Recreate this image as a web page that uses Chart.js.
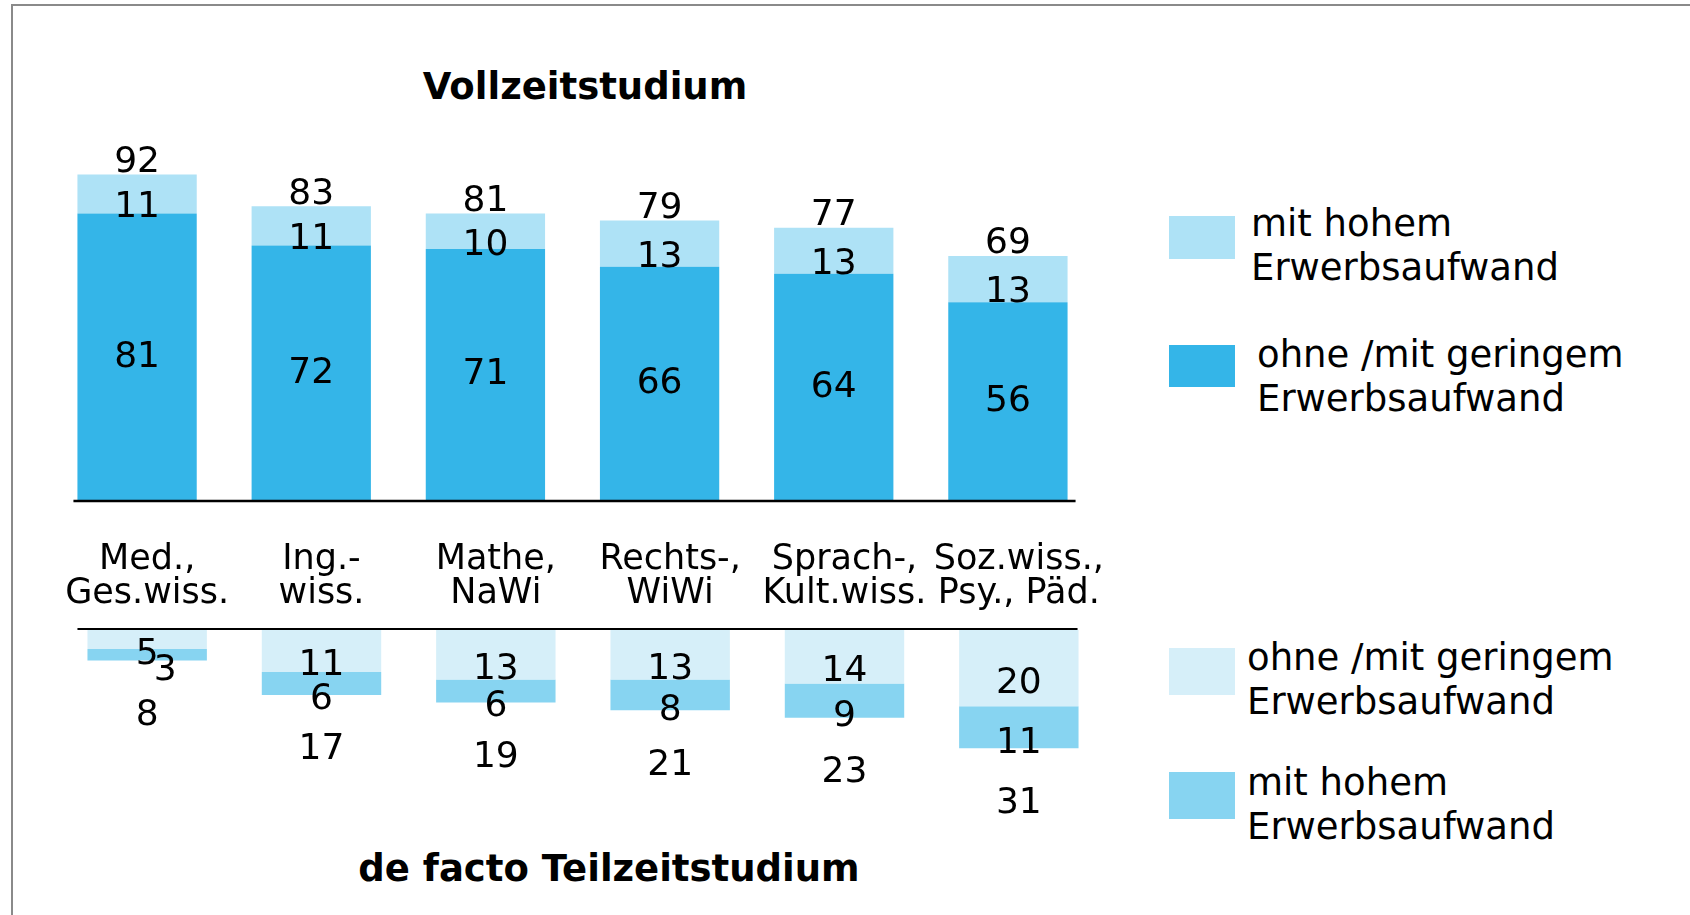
<!DOCTYPE html>
<html lang="de">
<head>
<meta charset="utf-8">
<title>Vollzeitstudium / de facto Teilzeitstudium</title>
<script src="https://cdn.jsdelivr.net/npm/chart.js@4.4.1/dist/chart.umd.min.js"></script>
<style>
  html, body { margin: 0; padding: 0; background: #fff; }
  body { position: relative; width: 1690px; height: 915px; overflow: hidden; font-family: "DejaVu Sans", sans-serif; color: #000; }
  .frame { position: absolute; left: 11px; top: 4px; width: 1700px; height: 930px; border-top: 2px solid #8a8a8a; border-left: 2px solid #8a8a8a; }
  .title { position: absolute; left: 0; font-weight: bold; font-size: 37px; line-height: 40px; text-align: center; white-space: nowrap; }
  canvas { position: absolute; left: 0; }
  .swatch { position: absolute; left: 1169px; width: 66px; }
  .legend-text { position: absolute; font-size: 37px; line-height: 44px; white-space: nowrap; }
</style>
</head>
<body>
<div class="frame"></div>
<div class="title" style="top:67px; width:1170px;">Vollzeitstudium</div>
<div class="title" style="top:849px; width:1218px;">de facto Teilzeitstudium</div>
<canvas id="topChart" width="1100" height="520" style="top:0;"></canvas>
<canvas id="bottomChart" width="1130" height="440" style="top:440px;"></canvas>
<div id="legend"></div>

<script>
// Kategorien (Fächergruppen)
const categories = [
    ["Med.,", "Ges.wiss."],
    ["Ing.-", "wiss."],
    ["Mathe,", "NaWi"],
    ["Rechts-,", "WiWi"],
    ["Sprach-,", "Kult.wiss."],
    ["Soz.wiss.,", "Psy., Päd."],
];
const seriesNames = ["ohne /mit geringem", "mit hohem"];

// Vollzeitstudium
const fullLow = [81, 72, 71, 66, 64, 56];
const fullHigh = [11, 11, 10, 13, 13, 13];
const fullTotal = [92, 83, 81, 79, 77, 69];

// de facto Teilzeitstudium
const partLow = [5, 11, 13, 13, 14, 20];
const partHigh = [3, 6, 6, 8, 9, 11];
const partTotal = [8, 17, 19, 21, 23, 31];

(() => {
    "use strict";

    const colors = {
        fullLow: "#34b5e8",
        fullHigh: "#aee2f6",
        partLow: "#d6eff9",
        partHigh: "#87d4f1",
    };
    const font = "'DejaVu Sans', sans-serif";

    // Zahlen in/an den Balken und die Grundlinie
    const valueLabels = {
        id: "valueLabels",
        afterDatasetsDraw(chart, args, opts) {
            const ctx = chart.ctx;
            const metas = chart.data.datasets.map((ds, i) => chart.getDatasetMeta(i));
            const last = metas[metas.length - 1].data;

            // Grundlinie
            const first = metas[0].data[0];
            const end = last[last.length - 1];
            const y0 = chart.scales.y.getPixelForValue(0) + opts.lineShift;
            ctx.save();
            ctx.strokeStyle = "#000";
            ctx.lineWidth = opts.lineWidth;
            ctx.beginPath();
            ctx.moveTo(first.x - first.width / 2 - opts.lineExt[0], y0);
            ctx.lineTo(end.x + end.width / 2 + opts.lineExt[1], y0);
            ctx.stroke();

            ctx.font = "36px " + font;
            ctx.fillStyle = "#000";
            ctx.textAlign = "center";
            ctx.textBaseline = "middle";
            chart.data.datasets.forEach((ds, i) => {
                metas[i].data.forEach((bar, j) => {
                    const v = ds.data[j];
                    let x = bar.x;
                    if (i === opts.shiftDataset && v < 4) x += 18;
                    ctx.fillText(String(v), x, (bar.y + bar.base) / 2 + opts.segmentOffsets[i]);
                });
            });
            last.forEach((bar, j) => {
                ctx.fillText(String(opts.totals[j]), bar.x, bar.y + opts.totalOffset);
            });
            ctx.restore();
        },
    };

    // Vollzeitstudium (nach oben)
    new Chart(document.getElementById("topChart"), {
        type: "bar",
        data: {
            labels: categories,
            datasets: [
                { label: seriesNames[0], data: fullLow, backgroundColor: colors.fullLow },
                { label: seriesNames[1], data: fullHigh, backgroundColor: colors.fullHigh },
            ],
        },
        options: {
            responsive: false,
            animation: false,
            events: [],
            layout: { padding: { left: 50, right: 5, top: 146, bottom: 19 } },
            datasets: { bar: { categoryPercentage: 1, barPercentage: 0.685 } },
            scales: {
                x: { display: false, stacked: true },
                y: { display: false, stacked: true, min: 0, max: 100 },
            },
            plugins: {
                legend: { display: false },
                tooltip: { enabled: false },
                valueLabels: {
                    totals: fullTotal,
                    segmentOffsets: [0, 14],
                    totalOffset: -12,
                    shiftDataset: -1,
                    lineShift: 0,
                    lineWidth: 2.5,
                    lineExt: [4, 8],
                },
            },
        },
        plugins: [valueLabels],
    });

    // de facto Teilzeitstudium (nach unten)
    new Chart(document.getElementById("bottomChart"), {
        type: "bar",
        data: {
            labels: categories,
            datasets: [
                { label: seriesNames[0], data: partLow, backgroundColor: colors.partLow },
                { label: seriesNames[1], data: partHigh, backgroundColor: colors.partHigh },
            ],
        },
        options: {
            responsive: false,
            animation: false,
            events: [],
            layout: { padding: { left: 60, right: 24, top: 0, bottom: 100 } },
            datasets: { bar: { categoryPercentage: 1, barPercentage: 0.685 } },
            scales: {
                x: {
                    position: "top",
                    stacked: true,
                    grid: { display: false },
                    border: { display: false },
                    ticks: {
                        color: "#000",
                        padding: 11,
                        maxRotation: 0,
                        autoSkip: false,
                        font: { family: font, size: 35, lineHeight: 0.97 },
                    },
                    afterFit(scale) {
                        scale.height = 190;
                    },
                },
                y: { display: false, stacked: true, reverse: true, min: 0, max: 39.3 },
            },
            plugins: {
                legend: { display: false },
                tooltip: { enabled: false },
                valueLabels: {
                    totals: partTotal,
                    segmentOffsets: [15, 16],
                    totalOffset: 55,
                    shiftDataset: 1,
                    lineShift: -1,
                    lineWidth: 2,
                    lineExt: [10, -1],
                },
            },
        },
        plugins: [valueLabels],
    });

    // Legenden rechts
    const legend = document.getElementById("legend");
    const addItem = (color, name, swatchTop, swatchH, textLeft, textTop) => {
        const sw = document.createElement("div");
        sw.className = "swatch";
        sw.style.top = swatchTop + "px";
        sw.style.height = swatchH + "px";
        sw.style.background = color;
        legend.appendChild(sw);
        const tx = document.createElement("div");
        tx.className = "legend-text";
        tx.style.left = textLeft + "px";
        tx.style.top = textTop + "px";
        tx.innerHTML = name + "<br>Erwerbsaufwand";
        legend.appendChild(tx);
    };
    addItem(colors.fullHigh, seriesNames[1], 216, 43, 1251, 202);
    addItem(colors.fullLow, seriesNames[0], 345, 42, 1257, 333);
    addItem(colors.partLow, seriesNames[0], 648, 47, 1247, 636);
    addItem(colors.partHigh, seriesNames[1], 772, 47, 1247, 761);
})();
</script>
</body>
</html>
